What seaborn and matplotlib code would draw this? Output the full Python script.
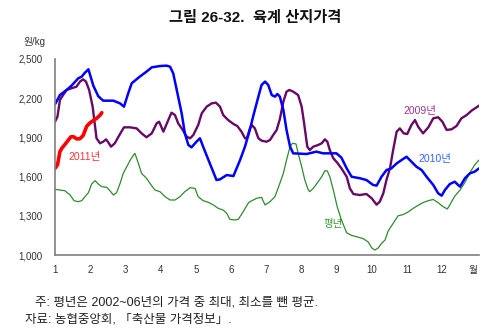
import matplotlib
matplotlib.use("Agg")
import matplotlib.pyplot as plt
import seaborn as sns
import pandas as pd

# ---------------- data ----------------
month_2010 = [1.00, 1.14, 1.33, 1.47, 1.66, 1.76, 1.85, 1.95, 2.09, 2.23, 2.37, 2.66, 2.85, 2.96,
              3.08, 3.18, 3.41, 3.60, 3.75, 3.98, 4.17, 4.27, 4.36, 4.46, 4.60, 4.69, 4.79, 4.88,
              5.02, 5.12, 5.21, 5.40, 5.59, 5.69, 5.88, 6.07, 6.26, 6.40, 6.54, 6.63, 6.78, 6.87,
              6.97, 7.06, 7.16, 7.25, 7.32, 7.39, 7.49, 7.58, 7.68, 7.77, 8.15, 8.43, 8.62, 9.00,
              9.14, 9.29, 9.43, 9.67, 9.85, 10.04, 10.14, 10.28, 10.42, 10.56, 10.71, 10.85, 10.99,
              11.13, 11.27, 11.42, 11.56, 11.75, 11.89, 11.99, 12.08, 12.22, 12.36, 12.51, 12.65,
              12.79, 12.93, 13.05]
price_2010 = [2153, 2224, 2263, 2296, 2352, 2365, 2395, 2421, 2295, 2215, 2181, 2181, 2160, 2135,
              2237, 2314, 2365, 2403, 2436, 2446, 2449, 2441, 2390, 2263, 2084, 1931, 1842, 1824,
              1867, 1893, 1829, 1701, 1574, 1579, 1612, 1604, 1727, 1830, 1960, 2059, 2212, 2301,
              2327, 2301, 2224, 2212, 2232, 2212, 2110, 1957, 1829, 1778, 1773, 1791, 1778, 1778,
              1745, 1663, 1599, 1587, 1574, 1536, 1531, 1599, 1650, 1663, 1701, 1727, 1752,
              1714, 1676, 1650, 1599, 1536, 1472, 1454, 1497, 1543, 1561, 1523, 1587,
              1625, 1638, 1663]

month_2009 = [1.00, 1.07, 1.14, 1.23, 1.33, 1.47, 1.61, 1.71, 1.80, 1.88, 1.97, 2.07, 2.14, 2.18,
              2.28, 2.37, 2.45, 2.52, 2.59, 2.70, 2.83, 2.96, 3.13, 3.32, 3.46, 3.60, 3.75, 3.89,
              3.96, 4.08, 4.22, 4.31, 4.41, 4.50, 4.63, 4.74, 4.84, 4.93, 5.07, 5.17, 5.31, 5.45,
              5.57, 5.69, 5.78, 5.92, 6.07, 6.18, 6.30, 6.40, 6.45, 6.54, 6.59, 6.68, 6.78, 6.87,
              7.01, 7.11, 7.20, 7.30, 7.39, 7.49, 7.58, 7.66, 7.77, 7.91, 8.01, 8.08, 8.17, 8.24,
              8.34, 8.48, 8.58, 8.67, 8.74, 8.81, 8.91, 9.02, 9.14, 9.29, 9.38, 9.48, 9.66, 9.85,
              10.00, 10.14, 10.23, 10.33, 10.42, 10.52, 10.61, 10.71, 10.80, 10.91, 11.01, 11.13,
              11.23, 11.32, 11.46, 11.61, 11.75, 11.89, 12.01, 12.13, 12.27, 12.41, 12.55, 12.70,
              12.84, 12.98, 13.05]
price_2009 = [2020, 2059, 2186, 2224, 2263, 2276, 2288, 2327, 2344, 2327, 2263, 2135, 1982, 1893,
              1855, 1867, 1885, 1860, 1829, 1855, 1918, 1977, 1977, 1969, 1931, 1901, 1931, 2008,
              2020, 1944, 2033, 2089, 2071, 2008, 1957, 1906, 1893, 1918, 1995, 2084, 2135, 2160,
              2166, 2135, 2071, 2033, 2003, 1987, 1944, 1893, 1890, 1969, 1995, 1969, 1893, 1875,
              1867, 1880, 1918, 1957, 2040, 2173, 2250, 2263, 2250, 2224, 2135, 2008, 1829, 1803,
              1829, 1842, 1855, 1885, 1867, 1803, 1740, 1707, 1663, 1599, 1510, 1467, 1459, 1467,
              1434, 1385, 1408, 1472, 1574, 1663, 1803, 1944, 1969, 1931, 1926, 1995,
              2033, 1982, 1931, 1977, 2046, 2054, 2020, 1957, 1962, 1987, 2046, 2071,
              2105, 2130, 2143]

month_avg = [1.00, 1.14, 1.28, 1.43, 1.54, 1.66, 1.76, 1.85, 1.95, 2.04, 2.14, 2.23, 2.33, 2.47,
             2.56, 2.66, 2.75, 2.85, 2.94, 3.04, 3.13, 3.23, 3.27, 3.37, 3.46, 3.60, 3.70, 3.84,
             3.98, 4.13, 4.27, 4.41, 4.55, 4.69, 4.84, 4.98, 5.07, 5.21, 5.36, 5.50, 5.64, 5.78,
             5.88, 5.97, 6.11, 6.21, 6.35, 6.49, 6.54, 6.73, 6.87, 6.97, 7.11, 7.25, 7.39, 7.49,
             7.58, 7.68, 7.75, 7.85, 7.91, 8.01, 8.10, 8.20, 8.24, 8.34, 8.48, 8.58, 8.67, 8.74,
             8.81, 8.91, 9.02, 9.14, 9.29, 9.43, 9.57, 9.76, 9.90, 10.00, 10.09, 10.19, 10.28,
             10.38, 10.47, 10.61, 10.75, 10.90, 11.04, 11.18, 11.32, 11.46, 11.61, 11.75, 11.89,
             12.03, 12.15, 12.22, 12.36, 12.51, 12.65, 12.79, 12.93, 13.05]
price_avg = [1503, 1497, 1492, 1459, 1416, 1408, 1416, 1446, 1477, 1543, 1569, 1543, 1523, 1518,
             1492, 1459, 1477, 1548, 1625, 1676, 1722, 1765, 1778, 1701, 1625, 1587, 1548, 1497,
             1485, 1446, 1421, 1421, 1446, 1485, 1515, 1510, 1446, 1416, 1403, 1383, 1357, 1344,
             1319, 1273, 1268, 1273, 1332, 1396, 1408, 1434, 1441, 1383, 1408, 1446, 1548, 1625,
             1727, 1829, 1855, 1850, 1778, 1676, 1574, 1497, 1485, 1510, 1561, 1599, 1645, 1643,
             1599, 1497, 1370, 1268, 1170, 1150, 1140, 1125, 1100, 1055, 1038, 1055, 1089,
             1115, 1185, 1242, 1300, 1310, 1330, 1357, 1380, 1401, 1416, 1425, 1400,
             1370, 1352, 1383, 1450, 1497, 1555, 1630, 1690, 1727]

month_2011 = [1.00, 1.07, 1.14, 1.19, 1.28, 1.38, 1.45, 1.52, 1.62, 1.71, 1.80, 1.85, 1.90, 1.99,
              2.09, 2.18, 2.28, 2.33]
price_2011 = [1663, 1689, 1790, 1816, 1845, 1880, 1904, 1906, 1888, 1890, 1915, 1950, 1985, 2010,
              2030, 2045, 2070, 2089]

x_ticks = list(range(1, 13))
x_tick_labels = [str(m) for m in x_ticks]
y_ticks = [1000, 1300, 1600, 1900, 2200, 2500]
y_tick_labels = ["1,000", "1,300", "1,600", "1,900", "2,200", "2,500"]

title = "그림 26-32.  육계 산지가격"
unit_label = "원/kg"
month_label = "월"
note1 = "주: 평년은 2002~06년의 가격 중 최대, 최소를 뺀 평균."
note2 = "자료: 농협중앙회, 「축산물 가격정보」."

# ---------------- style ----------------
sns.set_theme(style="white")
plt.rcParams["font.family"] = ["Liberation Sans", "Noto Sans CJK KR", "DejaVu Sans"]

fig = plt.figure(figsize=(5.0, 3.34), dpi=100)
ax = fig.add_axes([0.11, 0.2365, 0.848, 0.5869])

series = [
    (month_avg, price_avg, "#2E8B2E", 0.9),
    (month_2009, price_2009, "#660A66", 1.7),
    (month_2010, price_2010, "#0000FF", 1.8),
    (month_2011, price_2011, "#FF0000", 2.6),
]
for mx, py, col, lw in series:
    df = pd.DataFrame({"month": mx, "price": py})
    sns.lineplot(data=df, x="month", y="price", ax=ax, color=col, linewidth=lw,
                 estimator=None, sort=False)

ax.set_xlim(1, 13.05)
ax.set_ylim(1000, 2500)
ax.set_xticks(x_ticks)
ax.set_xticklabels(x_tick_labels)
ax.set_yticks(y_ticks)
ax.set_yticklabels(y_tick_labels)
ax.set_xlabel("")
ax.set_ylabel("")

for s in ["top", "right"]:
    ax.spines[s].set_visible(False)
for s in ["left", "bottom"]:
    ax.spines[s].set_color("#808080")
    ax.spines[s].set_linewidth(1.2)
ax.tick_params(axis="both", direction="in", length=3, width=0.8, color="#808080",
               labelsize=7, labelcolor="#333333")
ax.tick_params(axis="y", pad=9)
ax.tick_params(axis="x", pad=7)
ax.grid(False)

# series labels
ax.text(1.85, 1750, "2011년", color="#FF3333", fontsize=7.5, ha="center", va="center")
ax.text(11.37, 2104, "2009년", color="#993399", fontsize=7.5, ha="center", va="center")
ax.text(11.81, 1735, "2010년", color="#3366FF", fontsize=7.5, ha="center", va="center")
ax.text(8.89, 1237, "평년", color="#339933", fontsize=7.5, ha="center", va="center")

# texts
fig.text(0.51, 0.948, title, fontsize=11, fontweight="bold", ha="center", va="center",
         color="#111111")
fig.text(0.069, 0.873, unit_label, fontsize=7, ha="center", va="center", color="#333333")
fig.text(0.946, 0.193, month_label, fontsize=7, ha="center", va="center", color="#333333")
fig.text(0.07, 0.093, note1, fontsize=9, ha="left", va="center", color="#222222")
fig.text(0.05, 0.042, note2, fontsize=9, ha="left", va="center", color="#222222")

fig.savefig("out.png", dpi=100)
